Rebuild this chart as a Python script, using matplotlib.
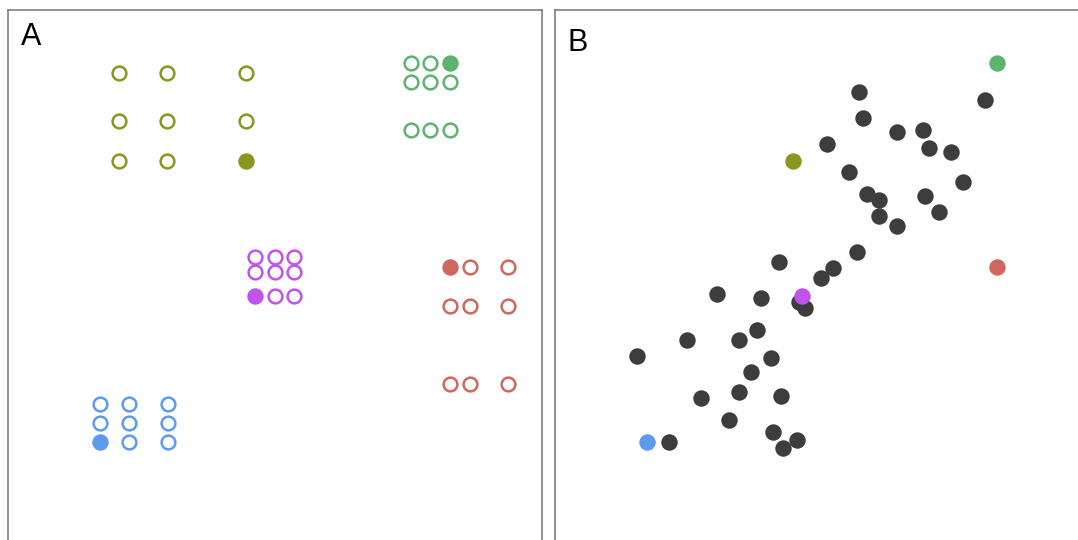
"""Two-panel dot layout: candidate grids (A) and the chosen points among the rest (B)."""
import numpy as np
from matplotlib import pyplot as plt

plt.rcParams['font.family'] = ['Liberation Sans', 'DejaVu Sans']

# panel coordinates, measured in pixels from the top-left corner of each panel
group_colors = ['#8c961e', '#5db46e', '#c052ee', '#cf675d', '#5c9bee']
group_cols = [
    [111, 159, 238],
    [403, 422, 442],
    [247, 267, 286],
    [442, 462, 500],
    [92, 121, 160],
]
group_rows = [
    [63, 111, 151],
    [53, 72, 120],
    [247, 262, 286],
    [257, 296, 374],
    [394, 413, 432],
]
# which grid cell (col, row) is picked in each group
picked = [(2, 2), (2, 0), (0, 2), (0, 0), (0, 2)]

others_x = [304, 430, 308, 342, 368, 272, 374, 396, 294, 408, 312, 324, 370,
            324, 384, 342, 302, 224, 278, 266, 162, 206, 244, 250, 202, 132,
            184, 82, 216, 196, 184, 146, 226, 174, 218, 242, 114, 228]
others_y = [82, 90, 108, 122, 120, 134, 138, 142, 162, 172, 184, 190, 186,
            206, 202, 216, 242, 252, 258, 268, 284, 288, 292, 298, 320, 330,
            330, 346, 348, 362, 382, 388, 386, 410, 422, 430, 432, 438]

panel_size = 534
fig_w, fig_h = 1078, 540
fig = plt.figure(figsize=(fig_w / 100, fig_h / 100), dpi=100)


def make_panel(left_px, top_px, label, label_y):
    ax = fig.add_axes([left_px / fig_w, 1 - (top_px + panel_size) / fig_h,
                       panel_size / fig_w, panel_size / fig_h])
    ax.set_xlim(0, panel_size)
    ax.set_ylim(panel_size, 0)
    ax.set_xticks([])
    ax.set_yticks([])
    for sp in ax.spines.values():
        sp.set_color('#7f7f7f')
        sp.set_linewidth(1.2)
    ax.text(13.5, label_y, label, fontsize=22, va='top', ha='left')
    return ax


ax_a = make_panel(7.5, 10, 'A', 12)
ax_b = make_panel(554.5, 10, 'B', 18)

# panel A: every grid as hollow rings, the picked cell filled
for color, cols, rows, (ci, ri) in zip(group_colors, group_cols, group_rows, picked):
    gx, gy = np.meshgrid(cols, rows)
    mask = np.ones(gx.shape, dtype=bool)
    mask[ri, ci] = False
    ax_a.scatter(gx[mask], gy[mask], s=98, facecolors='white',
                 edgecolors=color, linewidths=1.8, zorder=3)
    ax_a.scatter([cols[ci]], [rows[ri]], s=140, color=color,
                 linewidths=0, zorder=3)

# panel B: remaining points in dark grey, picked ones in their group colour
ax_b.scatter(others_x, others_y, s=140, color='#3d3d3d', linewidths=0, zorder=3)
for color, cols, rows, (ci, ri) in zip(group_colors, group_cols, group_rows, picked):
    ax_b.scatter([cols[ci]], [rows[ri]], s=140, color=color,
                 linewidths=0, zorder=4)

fig.savefig('out.png', dpi=100)
